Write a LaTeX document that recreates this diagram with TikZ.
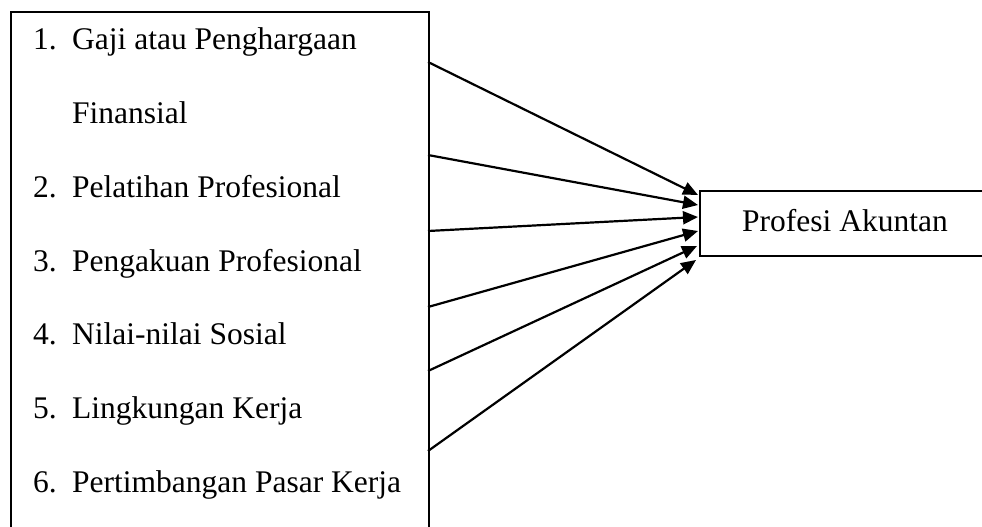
\documentclass[tikz,border=0pt]{standalone}
\usepackage{fontspec}
\setmainfont{Liberation Serif}
\usetikzlibrary{arrows.meta}
\begin{document}
\begin{tikzpicture}[x=1pt,y=-1pt,
  box/.style={draw, line width=2pt, inner sep=0pt},
  txt/.style={anchor=base west, inner sep=0pt, font=\fontsize{31.5}{37}\selectfont},
  arr/.style={line width=2.2pt, -{Triangle[length=15pt,width=13pt]}}]
\useasboundingbox (0,0) rectangle (982,527);
\clip (0,0) rectangle (982,527);
\node[box, anchor=north west, minimum width=418pt, minimum height=540pt] (L) at (10,11) {};
\node[box, anchor=north west, minimum width=320pt, minimum height=65pt] (R) at (699,190) {};
\node[txt] (n1) at (33,49) {1.};
\node[txt] (t1) at (72,49) {Gaji atau Penghargaan};
\node[txt] (t1b) at (72,123) {Finansial};
\node[txt] (n2) at (33,197) {2.};
\node[txt] (t2) at (72,197) {Pelatihan Profesional};
\node[txt] (n3) at (33,271) {3.};
\node[txt] (t3) at (72,271) {Pengakuan Profesional};
\node[txt] (n4) at (33,344) {4.};
\node[txt] (t4) at (72,344) {Nilai-nilai Sosial};
\node[txt] (n5) at (33,418) {5.};
\node[txt] (t5) at (72,418) {Lingkungan Kerja};
\node[txt] (n6) at (33,492) {6.};
\node[txt] (t6) at (72,492) {Pertimbangan Pasar Kerja};
\node[txt] (pa) at (742,231) {Profesi Akuntan};
\coordinate (s1) at (428,62);
\coordinate (s2) at (428,155);
\coordinate (s3) at (428,231);
\coordinate (s4) at (428,307);
\coordinate (s5) at (428,371);
\coordinate (s6) at (428,451);
\coordinate (e1) at (698,195);
\coordinate (e2) at (698,205);
\coordinate (e3) at (698,217);
\coordinate (e4) at (698,231);
\coordinate (e5) at (697,246);
\coordinate (e6) at (696,260);
\foreach \i in {1,...,6}{\draw[arr] (s\i) -- (e\i);}
\end{tikzpicture}
\end{document}
